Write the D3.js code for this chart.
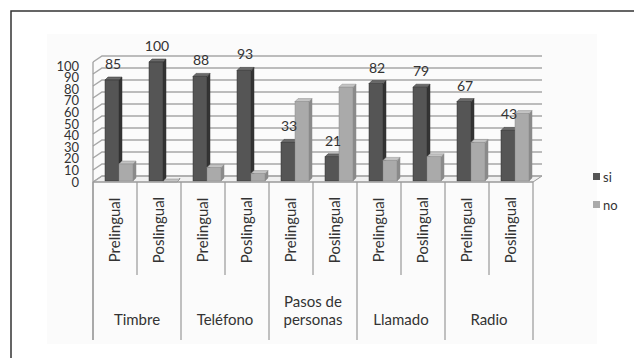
<!DOCTYPE html>
<html>
<head>
<meta charset="utf-8">
<script src="https://cdn.jsdelivr.net/npm/d3@7"></script>
<style>
  body { margin: 0; background: #fff; }
  svg { display: block; font-family: Lato, "Open Sans", sans-serif; }
</style>
</head>
<body>
<div id="chart"></div>
<script>
// chart values
const groups = ['Timbre', 'Teléfono', 'Pasos de personas', 'Llamado', 'Radio'];
const subLabels = ['Prelingual', 'Poslingual'];
const siValues = [85, 100, 88, 93, 33, 21, 82, 79, 67, 43];
const noValues = [15, 0, 12, 7, 67, 79, 18, 21, 33, 57];
const yTicks = [0, 10, 20, 30, 40, 50, 60, 70, 80, 90, 100];
const seriesNames = ['si', 'no'];

const W = 634, H = 358;
const svg = d3.select('#chart').append('svg').attr('width', W).attr('height', H);

// outer frame (cut by window on right / bottom)
svg.append('rect').attr('x', 11).attr('y', 11).attr('width', 700).attr('height', 500)
    .attr('fill', '#fff').attr('stroke', '#333').attr('stroke-width', 1.5);

// faint plot area
svg.append('rect').attr('x', 47).attr('y', 34).attr('width', 550).attr('height', 310).attr('fill', '#fbfbfb');

const x0 = 93, x1 = 533, yBase = 182, yTop = 62;
const depth = { dx: 9, dy: -6 };

// categories: every (group, sub) pair
const cells = [];
groups.forEach((g, gi) => subLabels.forEach((s, si) => cells.push({ g, gi, s, i: gi * 2 + si })));

const xScale = d3.scaleBand().domain(d3.range(cells.length)).range([x0, x1]);
const inner = d3.scaleBand().domain(seriesNames).range([12, 40]);
const yScale = d3.scaleLinear().domain([0, 100]).range([yBase, yTop]);

// floor
svg.append('path')
    .attr('d', `M${x0},${yBase}L${x1},${yBase}L${x1 + depth.dx},${yBase + depth.dy}L${x0 + depth.dx},${yBase + depth.dy}Z`)
    .attr('fill', '#f0f0f0').attr('stroke', '#999').attr('stroke-width', 1);

// gridlines on back wall
svg.append('g').selectAll('path')
    .data(yTicks)
    .enter()
    .append('path')
    .attr('d', d => `M${x0},${yScale(d)}L${x0 + depth.dx},${yScale(d) + depth.dy}L${x1 + depth.dx},${yScale(d) + depth.dy}`)
    .attr('fill', 'none')
    .attr('stroke', '#a8a8a8')
    .attr('stroke-width', 1.5);

// y axis line
svg.append('line').attr('x1', x0).attr('x2', x0).attr('y1', yTop).attr('y2', 340)
    .attr('stroke', '#999').attr('stroke-width', 1.2);

// y labels (crowded, as in the original)
svg.append('g').selectAll('text')
    .data(yTicks)
    .enter()
    .append('text')
    .attr('x', 79)
    .attr('y', d => yScale(d) + 4 * d / 100)
    .attr('dy', '0.35em')
    .attr('text-anchor', 'end')
    .attr('font-size', '13px')
    .attr('fill', '#333')
    .text(d => d);

// bars
function bar(g, x, w, v, front, side, top) {
    const yt = yScale(v), b = yBase - 1;
    const d = 3;
    g.append('path').attr('d', `M${x + w},${b}L${x + w + d},${b - d}L${x + w + d},${yt - d}L${x + w},${yt}Z`)
        .attr('fill', side).attr('stroke', side).attr('stroke-width', 0.5);
    g.append('path').attr('d', `M${x},${yt}L${x + d},${yt - d}L${x + w + d},${yt - d}L${x + w},${yt}Z`)
        .attr('fill', top).attr('stroke', side).attr('stroke-width', 0.5);
    g.append('rect').attr('x', x).attr('y', yt).attr('width', w).attr('height', b - yt)
        .attr('fill', front).attr('stroke', side).attr('stroke-width', 0.5);
}

const barsG = svg.append('g');
cells.forEach(c => {
    const bx = xScale(c.i);
    bar(barsG, bx + inner('si'), inner.bandwidth(), siValues[c.i], '#555555', '#333333', '#6a6a6a');
    bar(barsG, bx + inner('no'), inner.bandwidth(), noValues[c.i], '#aaaaaa', '#8a8a8a', '#c4c4c4');
});

// value labels (si)
svg.append('g').selectAll('text')
    .data(cells)
    .enter()
    .append('text')
    .attr('x', d => xScale(d.i) + inner('si') + inner.bandwidth() / 2 + 1)
    .attr('y', d => yScale(siValues[d.i]) - 11)
    .attr('text-anchor', 'middle')
    .attr('font-size', '14px')
    .attr('fill', '#333')
    .text(d => siValues[d.i]);

// category table
const tbl = svg.append('g');
tbl.append('line').attr('x1', x0).attr('x2', x1).attr('y1', yBase).attr('y2', yBase)
    .attr('stroke', '#999').attr('stroke-width', 1.2);
d3.range(cells.length + 1).forEach(k => {
    const xx = k < cells.length ? xScale(k) : x1;
    tbl.append('line').attr('x1', xx).attr('x2', xx).attr('y1', yBase)
        .attr('y2', k % 2 === 0 ? 340 : 275)
        .attr('stroke', '#999').attr('stroke-width', 1.2);
});

tbl.selectAll('.sub')
    .data(cells)
    .enter()
    .append('text')
    .attr('class', 'sub')
    .attr('transform', d => `translate(${xScale(d.i) + xScale.bandwidth() / 2 + 5},230) rotate(-90)`)
    .attr('text-anchor', 'middle')
    .attr('font-size', '15px')
    .attr('fill', '#333')
    .text(d => d.s);

tbl.selectAll('.grp')
    .data(groups)
    .enter()
    .append('text')
    .attr('class', 'grp')
    .attr('x', (d, gi) => xScale(gi * 2 + 1))
    .attr('y', d => d.includes(' de ') ? 307 : 325)
    .attr('text-anchor', 'middle')
    .attr('font-size', '15px')
    .attr('fill', '#333')
    .each(function (d) {
        const t = d3.select(this);
        if (d.includes(' de ')) {
            t.append('tspan').attr('x', t.attr('x')).text('Pasos de');
            t.append('tspan').attr('x', t.attr('x')).attr('dy', 18).text('personas');
        } else {
            t.text(d);
        }
    });

// legend
const legendColors = { si: '#555555', no: '#aaaaaa' };
const leg = svg.append('g').selectAll('g')
    .data(seriesNames)
    .enter()
    .append('g')
    .attr('transform', (d, i) => `translate(593,${177 + i * 28})`);
leg.append('rect').attr('x', 0).attr('y', -4).attr('width', 7).attr('height', 7)
    .attr('fill', d => legendColors[d]);
leg.append('text').attr('x', 10).attr('y', 0).attr('dy', '0.35em')
    .attr('font-size', '13px').attr('fill', '#333').text(d => d);
</script>
</body>
</html>
